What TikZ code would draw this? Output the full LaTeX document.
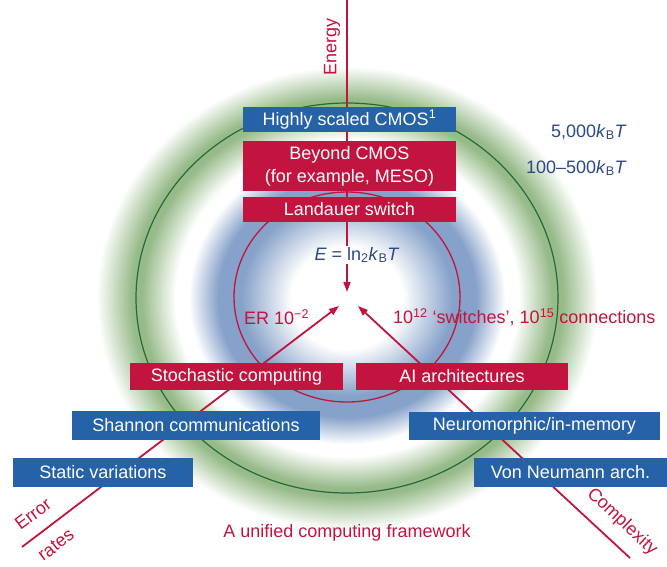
\documentclass[tikz,border=0pt]{standalone}
\usepackage{fontspec}
\setmainfont{Liberation Sans}
\usetikzlibrary{arrows.meta}
\definecolor{crim}{RGB}{194,20,62}
\definecolor{boxblue}{RGB}{38,98,168}
\definecolor{navy}{RGB}{45,72,135}
\definecolor{lgreen}{RGB}{40,105,60}
\definecolor{glowblue}{RGB}{135,162,202}
\definecolor{glowgreen}{RGB}{150,186,136}
\pgfdeclareradialshading{glow}{\pgfpoint{0bp}{0bp}}{color(0bp)=(white); color(5.25bp)=(white); color(10bp)=(glowblue); color(12.25bp)=(glowblue); color(15bp)=(white); color(16.25bp)=(white); color(19.5bp)=(glowgreen); color(20.4bp)=(glowgreen); color(23.75bp)=(white); color(50bp)=(white)}
\begin{document}
\begin{tikzpicture}[x=1pt,y=-1pt,
  box/.style={draw=none, text=white, inner sep=0pt, font=\fontsize{18}{23}\selectfont, align=center},
  redbox/.style={box, fill=crim},
  bluebox/.style={box, fill=boxblue},
  lbl/.style={font=\fontsize{18}{22}\selectfont, inner sep=1pt},
  axis/.style={draw=crim, line width=1.8pt},
  tip/.style={-{Triangle[length=10pt,width=7pt]}}
]
\useasboundingbox (0,0) rectangle (667,566);
% glow
\path[shading=glow] (347,298) ellipse [x radius=263.75, y radius=243.75];
% rings
\draw[lgreen, line width=1.2pt] (347,298) ellipse [x radius=211, y radius=195];
\draw[crim, line width=1.3pt] (347,297) ellipse [x radius=113, y radius=105];
% coordinates
\coordinate (etop) at (347,0);
\coordinate (dtip) at (347,292);
\coordinate (ltip) at (339,306);
\coordinate (rtip) at (358,306);
\coordinate (errend) at (22,547);
\coordinate (cxend) at (630,558);
% E label
\node[lbl, text=navy] (elab) at (357,255) {\textit{E} = ln\textsubscript{2}\textit{k}\textsubscript{B}\textit{T}};
% axes
\draw[axis] (etop) -- (elab.north -| etop);
\draw[axis, tip] (elab.south -| etop) -- (dtip);
\draw[axis, tip] (errend) -- (ltip);
\draw[axis, tip] (cxend) -- (rtip);
% boxes
\node[bluebox, minimum width=213pt, minimum height=25pt] (cmos) at (349.5,119.5) {Highly scaled CMOS\textsuperscript{1}};
\node[redbox, minimum width=213pt, minimum height=50pt] (beyond) at (349.5,166) {Beyond CMOS\\(for example, MESO)};
\node[redbox, minimum width=213pt, minimum height=25pt] (landauer) at (349.5,209.5) {Landauer switch};
\node[redbox, minimum width=213pt, minimum height=27pt] (stoch) at (236.5,376.5) {Stochastic computing};
\node[redbox, minimum width=212pt, minimum height=27pt] (ai) at (462,376.5) {AI architectures};
\node[bluebox, minimum width=248pt, minimum height=29pt] (shannon) at (196,425.5) {Shannon communications};
\node[bluebox, minimum width=251pt, minimum height=28pt] (neuro) at (534.5,426) {Neuromorphic/in-memory};
\node[bluebox, minimum width=180pt, minimum height=29pt] (static) at (103,472.5) {Static variations};
\node[bluebox, minimum width=193pt, minimum height=29pt] (vonn) at (570.5,472.5) {Von Neumann arch.};
% labels
\node[lbl, text=crim, rotate=90] (energy) at (332,47) {Energy};
\node[lbl, text=navy, anchor=east] (k5000) at (628,132) {5,000\textit{k}\textsubscript{B}\textit{T}};
\node[lbl, text=navy, anchor=east] (k100) at (628,168) {100–500\textit{k}\textsubscript{B}\textit{T}};
\node[lbl, text=crim, anchor=west] (er) at (243,317) {ER 10\textsuperscript{−2}};
\node[lbl, text=crim, anchor=west] (sw) at (392,317) {10\textsuperscript{12} ‘switches’, 10\textsuperscript{15} connections};
\node[lbl, text=crim] (unified) at (347,533) {A unified computing framework};
\node[lbl, text=crim, rotate=37] (error) at (33,514) {Error};
\node[lbl, text=crim, rotate=37] (rates) at (56,545) {rates};
\node[lbl, text=crim, rotate=-43] (cx) at (622,522) {Complexity};
\end{tikzpicture}
\end{document}
